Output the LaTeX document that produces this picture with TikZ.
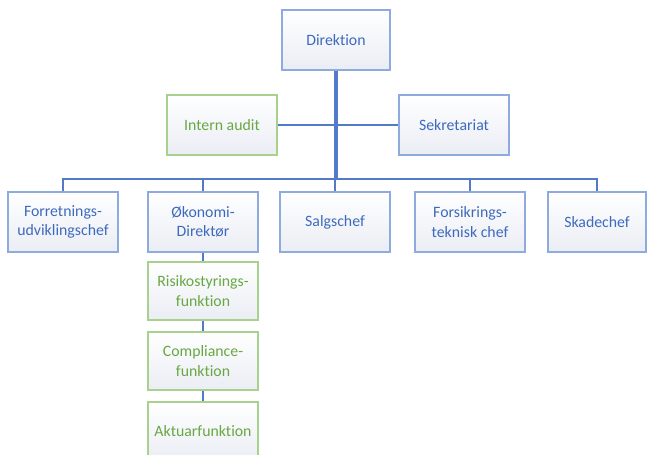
\documentclass[tikz,border=0pt]{standalone}
\usepackage{fontspec}
\setmainfont{Carlito}[Ligatures=NoCommon]
\usepackage{xcolor}
\usepackage{tikz}
\usetikzlibrary{positioning}

\definecolor{orgblue}{RGB}{62,106,190}
\definecolor{orgblueline}{RGB}{143,170,220}
\definecolor{orggreen}{RGB}{104,168,66}
\definecolor{orggreenline}{RGB}{169,209,142}
\definecolor{boxshade}{RGB}{234,237,244}
\definecolor{connblue}{RGB}{82,122,200}

\begin{document}
\begin{tikzpicture}[
    x=0.02cm, y=-0.02cm,
    unit/.style={draw=orgblueline, thick, top color=white, bottom color=boxshade, text=orgblue, minimum width=2.2cm, minimum height=1.2cm, align=center, font=\small, inner sep=2pt},
    control/.style={unit, draw=orggreenline, text=orggreen},
    main_line/.style={line width=1.8pt, draw=connblue},
    link_line/.style={line width=1.3pt, draw=connblue},
    bus_line/.style={line width=1pt, draw=connblue}
]
    \useasboundingbox (0,0) rectangle (648,455);

    % Top management
    \node (dir) [unit, minimum width=2.16cm] at (336,40) {Direktion};
    \node (audit) [control] at (222,125) {Intern audit};
    \node (sekr) [unit] at (454,125) {Sekretariat};

    % Department heads
    \node (forr) [unit] at (63,222) {Forretnings-\\udviklingschef};
    \node (oek) [unit] at (203,222) {Økonomi-\\Direktør};
    \node (salg) [unit] at (335,222) {Salgschef};
    \node (fors) [unit] at (470,222) {Forsikrings-\\teknisk chef};
    \node (skade) [unit, minimum width=1.96cm] at (597,222) {Skadechef};

    % Key functions
    \node (risk) [control, minimum height=1.16cm] at (203,291) {Risikostyrings-\\funktion};
    \node (comp) [control, minimum height=1.16cm] at (203,361) {Compliance-\\funktion};
    \node (aktu) [control, minimum height=1.16cm] at (203,431) {Aktuarfunktion};

    % Connections
    \coordinate (bus) at (336,179);
    \draw [link_line] (audit.east) -- (sekr.west);
    \draw [main_line] (dir.south) -- (bus);
    \draw [bus_line] (forr.north) |- (bus) -| (skade.north);
    \foreach \n in {oek, salg, fors}
        \draw [bus_line] (\n.north) -- (\n.north |- bus);
    \draw [bus_line] (oek.south) -- (risk.north);
    \draw [bus_line] (risk.south) -- (comp.north);
    \draw [bus_line] (comp.south) -- (aktu.north);
\end{tikzpicture}
\end{document}
